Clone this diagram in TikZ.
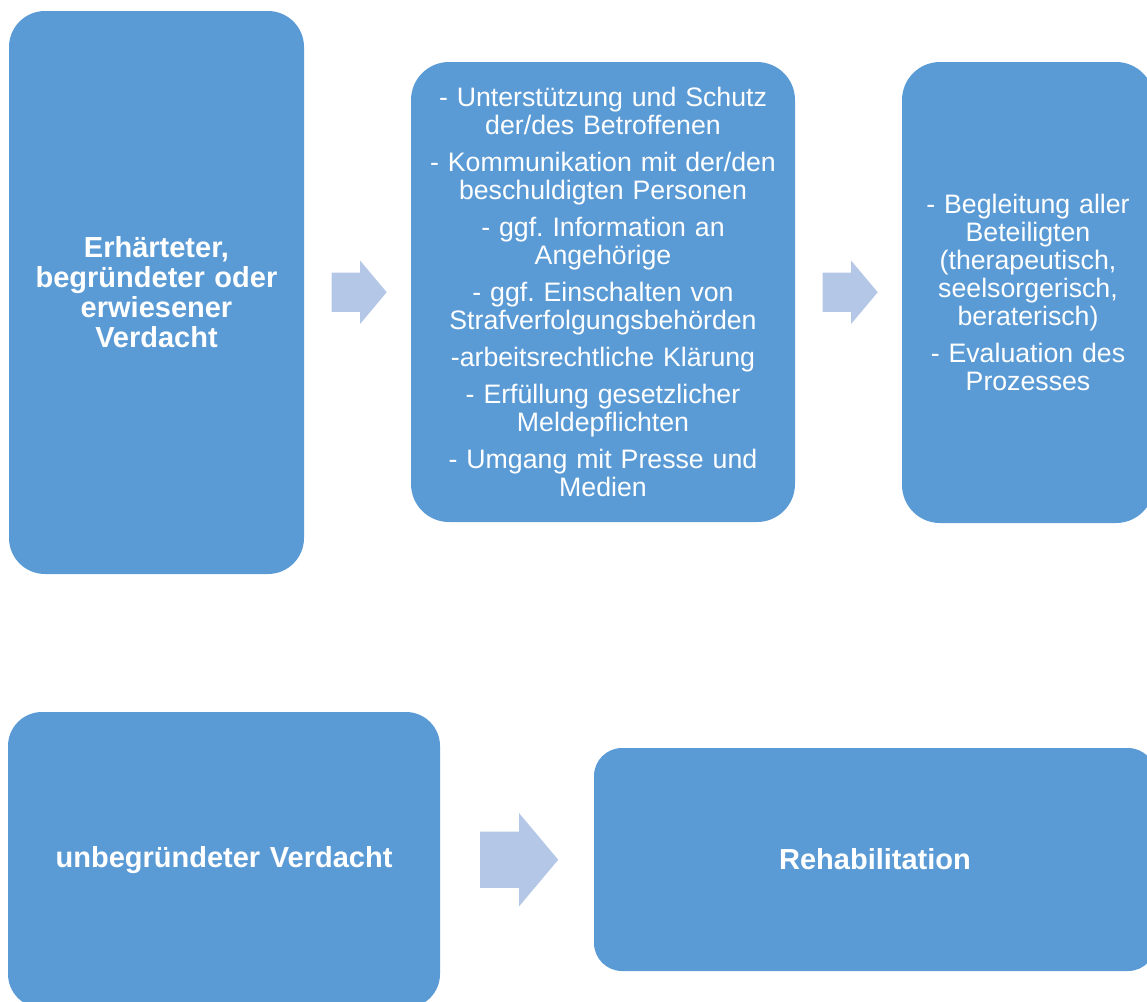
\documentclass[tikz,border=0pt]{standalone}
\usepackage{fontspec}
\setmainfont{Liberation Sans}
\usetikzlibrary{shapes.arrows}
\usetikzlibrary{calc}
\definecolor{boxblue}{RGB}{91,155,213}
\definecolor{arrowblue}{RGB}{180,199,231}
\frenchspacing

\begin{document}
\begin{tikzpicture}[x=1pt,y=-1pt,
  box/.style={fill=boxblue,draw=none,rounded corners=36pt,inner sep=0pt,align=center,text=white},
  headtext/.style={font={\fontsize{29}{30}\selectfont\bfseries}},
  itemtext/.style={font={\fontsize{26.7}{28}\selectfont}},
  blockarrow/.style={single arrow,fill=arrowblue,draw=none,inner xsep=0pt,anchor=tail,single arrow head indent=0pt,single arrow tip angle=100}]
\useasboundingbox (0,0) rectangle (1147,1001);
\clip (0,0) rectangle (1147,1001);
% oberer Ablauf
\node[box,headtext,minimum width=295pt,minimum height=563pt,text width=280pt] (verdacht) at (156.5,292.5) {Erhärteter,\\ begründeter oder\\ erwiesener\\ Verdacht};
\node[box,itemtext,minimum width=384pt,minimum height=460pt,text width=370pt,rounded corners=38pt] (massnahmen) at (603,292) {- Unterstützung und Schutz\\ der/des Betroffenen\\[9pt] - Kommunikation mit der/den\\ beschuldigten Personen\\[9pt] - ggf. Information an\\ Angehörige\\[9pt] - ggf. Einschalten von\\ Strafverfolgungsbehörden\\[9pt] -arbeitsrechtliche Klärung\\[9pt] - Erfüllung gesetzlicher\\ Meldepflichten\\[9pt] - Umgang mit Presse und\\ Medien};
\node[box,itemtext,minimum width=252pt,minimum height=461pt,text width=240pt,rounded corners=38pt] (begleitung) at (1028,292.5) {- Begleitung aller\\ Beteiligten\\ (therapeutisch,\\ seelsorgerisch,\\ beraterisch)\\[9pt] - Evaluation des\\ Prozesses};
\node[blockarrow,minimum height=55pt,inner ysep=19.5pt,single arrow head extend=12pt,xshift=-26pt] (pfeil1) at ($(verdacht.east)!0.5!(massnahmen.west)$) {};
\node[blockarrow,minimum height=55pt,inner ysep=19.5pt,single arrow head extend=12pt,xshift=-26pt] (pfeil2) at ($(massnahmen.east)!0.5!(begleitung.west)$) {};
% unterer Ablauf
\node[box,headtext,minimum width=432pt,minimum height=296pt,text width=420pt,rounded corners=34pt] (unbegruendet) at (224,860) {unbegründeter Verdacht};
\node[box,headtext,minimum width=562pt,minimum height=223pt,text width=540pt,rounded corners=28pt] (reha) at (875,859.5) {Rehabilitation};
\node[blockarrow,minimum height=78pt,inner ysep=28pt,single arrow head extend=18.5pt,xshift=-37pt] (pfeil3) at ($(unbegruendet.east)!0.5!(reha.west)$) {};
\end{tikzpicture}
\end{document}
